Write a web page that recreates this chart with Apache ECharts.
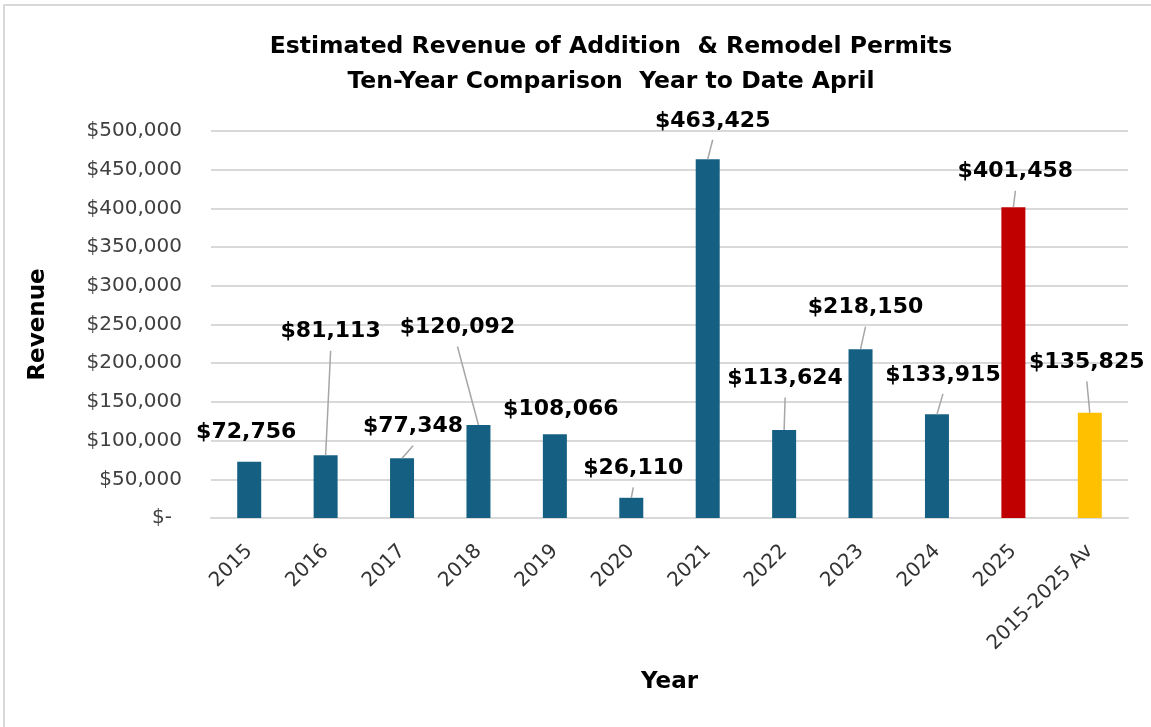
<!DOCTYPE html>
<html>
<head>
<meta charset="utf-8">
<script src="https://cdn.jsdelivr.net/npm/echarts@6/dist/echarts.min.js"></script>
<style>
html,body{margin:0;padding:0;background:#ffffff;}
#chart{width:1151px;height:727px;}
</style>
</head>
<body>
<div id="chart"></div>
<script>
// ---- data ----
const categories = ['2015','2016','2017','2018','2019','2020','2021','2022','2023','2024','2025','2015-2025 Av'];
const revenue = [72756, 81113, 77348, 120092, 108066, 26110, 463425, 113624, 218150, 133915, 401458, 135825];
const yMin = 0;
const yMax = 500000;
const yStep = 50000;

// ---- styling / label placement (not data) ----
const BLUE = '#156082';
const highlight = { '2025': '#C00000', '2015-2025 Av': '#FFC000' };
const labelDx   = [-3, 5, 11, -21, 6, 2, 5, 1, 5, 6, 2, -3];
const labelRise = [31, 125, 33, 99, 27, 31, 40, 53, 43, 41, 37, 52];
const labelLine = [0, 1, 1, 1, 0, 1, 1, 1, 1, 1, 1, 1];

const FONT = 'DejaVu Sans';

function money(v) {
  if (v === 0) return '$-\u2002';
  return '$' + v.toLocaleString('en-US');
}

const chart = echarts.init(document.getElementById('chart'), null, { renderer: 'canvas' });

const seriesData = revenue.map((v, i) => ({
  value: v,
  itemStyle: { color: highlight[categories[i]] || BLUE }
}));

chart.setOption({
  backgroundColor: '#ffffff',
  animation: false,
  title: {
    text: 'Estimated Revenue of Addition  & Remodel Permits\nTen-Year Comparison  Year to Date April',
    left: 611,
    top: 29,
    padding: 0,
    textAlign: 'center',
    textStyle: { fontFamily: FONT, fontWeight: 'bold', fontSize: 23.5, color: '#000000', lineHeight: 35 }
  },
  graphic: [{
    type: 'rect',
    shape: { x: 4, y: 5, width: 1200, height: 800 },
    style: { fill: 'none', stroke: '#d9d9d9', lineWidth: 2 },
    silent: true
  }],
  grid: { left: 211, right: 23, top: 131, bottom: 209, containLabel: false },
  xAxis: {
    type: 'category',
    data: categories,
    name: 'Year',
    nameLocation: 'middle',
    nameGap: 153,
    nameMoveOverlap: false,
    nameTextStyle: { fontFamily: FONT, fontWeight: 'bold', fontSize: 23, color: '#000000' },
    axisLine: { show: true, lineStyle: { color: '#d9d9d9', width: 2 } },
    axisTick: { show: false },
    axisLabel: {
      interval: 0,
      rotate: 45,
      margin: 30,
      fontFamily: FONT,
      fontSize: 20,
      color: '#333333'
    }
  },
  yAxis: {
    type: 'value',
    min: yMin,
    max: yMax,
    interval: yStep,
    name: 'Revenue',
    nameLocation: 'middle',
    nameGap: 161,
    nameMoveOverlap: false,
    nameRotate: 90,
    nameTextStyle: { fontFamily: FONT, fontWeight: 'bold', fontSize: 23, color: '#000000' },
    axisLine: { show: false },
    axisTick: { show: false },
    splitLine: { lineStyle: { color: '#d9d9d9', width: 2 } },
    axisLabel: {
      margin: 29,
      fontFamily: FONT,
      fontSize: 20,
      color: '#404040',
      formatter: money
    }
  },
  series: [{
    type: 'bar',
    data: seriesData,
    barWidth: 24,
    z: 2,
    label: {
      show: true,
      position: 'top',
      fontFamily: FONT,
      fontWeight: 'bold',
      fontSize: 22,
      color: '#000000',
      formatter: p => money(p.value)
    },
    labelLayout: function (p) {
      const i = p.dataIndex;
      const barCx = p.rect.x + p.rect.width / 2;
      const barTop = p.rect.y;
      return { x: barCx + labelDx[i], y: barTop - labelRise[i] + 1.5, align: 'center', verticalAlign: 'middle' };
    }
  }, {
    type: 'custom',
    silent: true,
    z: 3,
    data: revenue.map((v, i) => [i, v]),
    renderItem: function (params, api) {
      const i = params.dataIndex;
      if (!labelLine[i]) return null;
      const top = api.coord([api.value(0), api.value(1)]);
      return {
        type: 'line',
        shape: { x1: top[0] + labelDx[i], y1: top[1] - labelRise[i] + 20.5, x2: top[0], y2: top[1] },
        style: { stroke: '#a6a6a6', lineWidth: 1.5 }
      };
    }
  }]
});
</script>
</body>
</html>
